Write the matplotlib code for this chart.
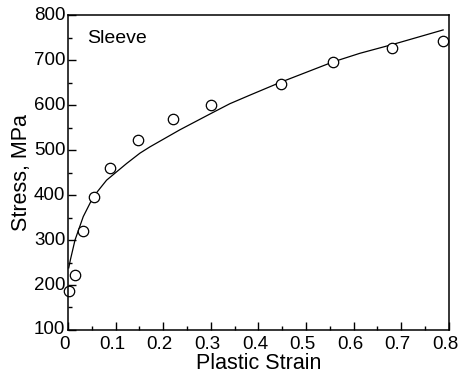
import matplotlib
matplotlib.use('Agg')
import matplotlib.pyplot as plt
import matplotlib.transforms as mtransforms
from matplotlib.ticker import MultipleLocator, FuncFormatter

plt.rcParams['font.family'] = ['Liberation Sans', 'DejaVu Sans']

# measured points (open circles)
strain_pts = [0.003, 0.015, 0.032, 0.055, 0.088, 0.146, 0.221, 0.300, 0.447, 0.556, 0.680, 0.787]
stress_pts = [187, 222, 320, 395, 459, 522, 569, 600, 647, 696, 726, 742]

# fitted curve
strain_fit = [0.0015, 0.005, 0.0147, 0.032, 0.053, 0.081, 0.123, 0.151, 0.172,
              0.235, 0.298, 0.340, 0.382, 0.445, 0.557, 0.613, 0.683, 0.788]
stress_fit = [238, 256, 300, 352, 396, 433, 470, 493, 507,
              545, 580, 603, 622, 650, 696, 715, 735, 767]

fig = plt.figure(figsize=(4.58, 3.77), dpi=100)
ax = fig.add_axes([0.1485, 0.1247, 0.8315, 0.8353])

ax.plot(strain_fit, stress_fit, color='black', linewidth=0.9)
ax.plot(strain_pts, stress_pts, linestyle='none', marker='o', markersize=7.5,
        markerfacecolor='white', markeredgecolor='black', markeredgewidth=0.9,
        clip_on=False)

ax.set_xlim(0, 0.8)
ax.set_ylim(100, 800)
ax.xaxis.set_major_locator(MultipleLocator(0.1))
ax.xaxis.set_minor_locator(MultipleLocator(0.05))
ax.yaxis.set_major_locator(MultipleLocator(100))
ax.yaxis.set_minor_locator(MultipleLocator(50))
ax.xaxis.set_major_formatter(FuncFormatter(lambda v, p: '0' if abs(v) < 1e-9 else '%.1f' % v))

ax.tick_params(which='both', direction='in', top=False, right=False, labelsize=13.5)
ax.tick_params(which='major', length=6, width=1)
ax.tick_params(which='minor', length=3, width=1)
ax.tick_params(axis='x', pad=4)
ax.tick_params(axis='y', pad=2)
# x labels sit a little left of their ticks in the original, y labels a bit high
xshift = mtransforms.ScaledTranslation(-3.5 / 100, 0, fig.dpi_scale_trans)
yshift = mtransforms.ScaledTranslation(0, 2 / 100, fig.dpi_scale_trans)
for lab in ax.get_xticklabels()[1:]:
    lab.set_transform(lab.get_transform() + xshift)
for lab in ax.get_yticklabels():
    lab.set_transform(lab.get_transform() + yshift)
for s in ax.spines.values():
    s.set_linewidth(1.1)

ax.set_xlabel('Plastic Strain', fontsize=15.5, labelpad=0)
ax.set_ylabel('Stress, MPa', fontsize=15.5, labelpad=1)
ax.text(0.05, 0.925, 'Sleeve', transform=ax.transAxes, fontsize=14, va='center', ha='left')

fig.savefig('out.png', dpi=100)
